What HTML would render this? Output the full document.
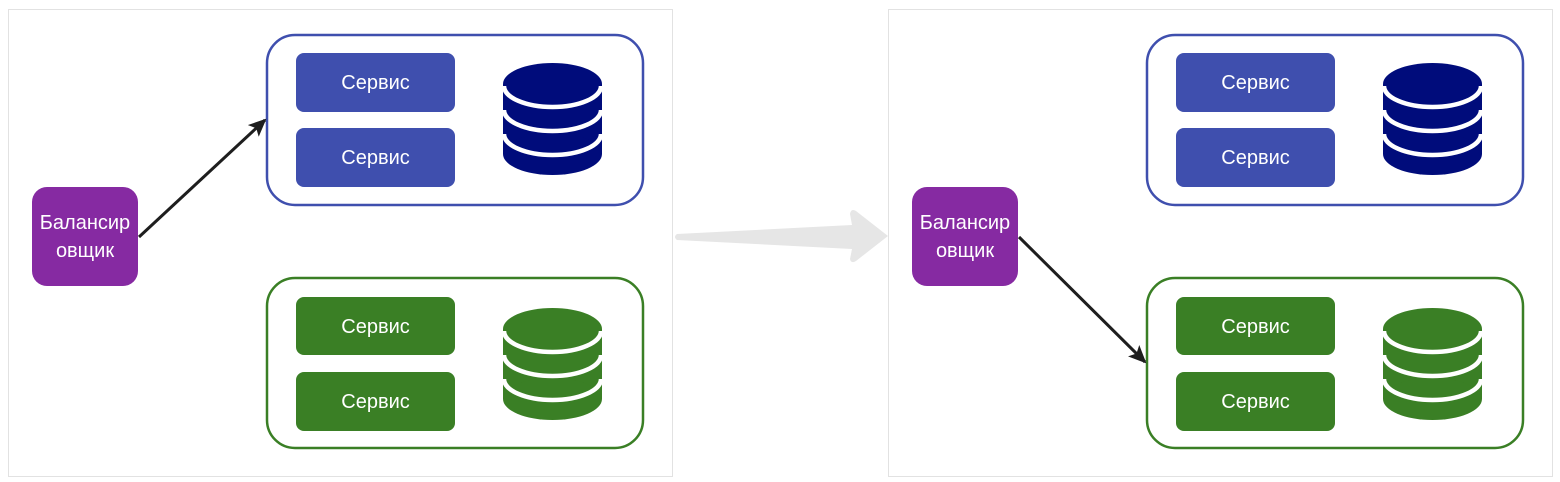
<!DOCTYPE html>
<html><head><meta charset="utf-8"><style>
html,body{margin:0;padding:0;background:#fff;width:1560px;height:482px;overflow:hidden}
text{font-family:"Liberation Sans","DejaVu Sans",sans-serif;fill:#fff;font-size:20px}
</style></head><body>
<svg width="1560" height="482" viewBox="0 0 1560 482" xmlns="http://www.w3.org/2000/svg">
<defs>
<g id="db">
  <rect x="0" y="21" width="99" height="70"/>
  <ellipse cx="49.5" cy="21" rx="49.5" ry="21"/>
  <ellipse cx="49.5" cy="91" rx="49.5" ry="21"/>
  <path d="M1 23 A48.5 21 0 0 0 98 23 M1 47 A48.5 21 0 0 0 98 47 M1 71 A48.5 21 0 0 0 98 71" fill="none" stroke="#fff" stroke-width="4.5"/>
</g>
<marker id="ah2" markerWidth="20" markerHeight="16" refX="16" refY="8" orient="auto" markerUnits="userSpaceOnUse">
  <path d="M0 0 L18 8 L0 16 L4 8 Z" fill="#1e1e1e"/>
</marker>
</defs>

<rect x="8.5" y="9.5" width="664" height="467" fill="#fff" stroke="#e2e2e2"/>
<rect x="888.5" y="9.5" width="664" height="467" fill="#fff" stroke="#e2e2e2"/>

<path d="M677 234 L852 225 L850 214 Q851 208 856 211 L888 236 L856 261 Q851 264 850 259 L852 249 L677 240 Q673 237 677 234 Z" fill="#e6e6e6"/>

<g id="left">
<rect x="267" y="35" width="376" height="170" rx="28" fill="#fff" stroke="#3f4fae" stroke-width="2.5"/>
<rect x="296" y="53" width="159" height="59" rx="8" fill="#3f4fae"/>
<rect x="296" y="128" width="159" height="59" rx="8" fill="#3f4fae"/>
<text x="375.5" y="89" text-anchor="middle">Сервис</text>
<text x="375.5" y="164" text-anchor="middle">Сервис</text>
<use href="#db" x="503" y="63" fill="#000c7b"/>

<rect x="267" y="278" width="376" height="170" rx="28" fill="#fff" stroke="#3a7f25" stroke-width="2.5"/>
<rect x="296" y="297" width="159" height="58" rx="8" fill="#3a7f25"/>
<rect x="296" y="372" width="159" height="59" rx="8" fill="#3a7f25"/>
<text x="375.5" y="333" text-anchor="middle">Сервис</text>
<text x="375.5" y="408" text-anchor="middle">Сервис</text>
<use href="#db" x="503" y="308" fill="#3a7f25"/>

<rect x="32" y="187" width="106" height="99" rx="15" fill="#862aa2"/>
<text x="85" y="229" text-anchor="middle">Балансир</text>
<text x="85" y="257" text-anchor="middle">овщик</text>
</g>

<line x1="139" y1="237" x2="265" y2="120" stroke="#1e1e1e" stroke-width="3" marker-end="url(#ah2)"/>

<use href="#left" x="880" y="0"/>

<line x1="1019" y1="237" x2="1145" y2="362" stroke="#1e1e1e" stroke-width="3" marker-end="url(#ah2)"/>
</svg>
</body></html>
